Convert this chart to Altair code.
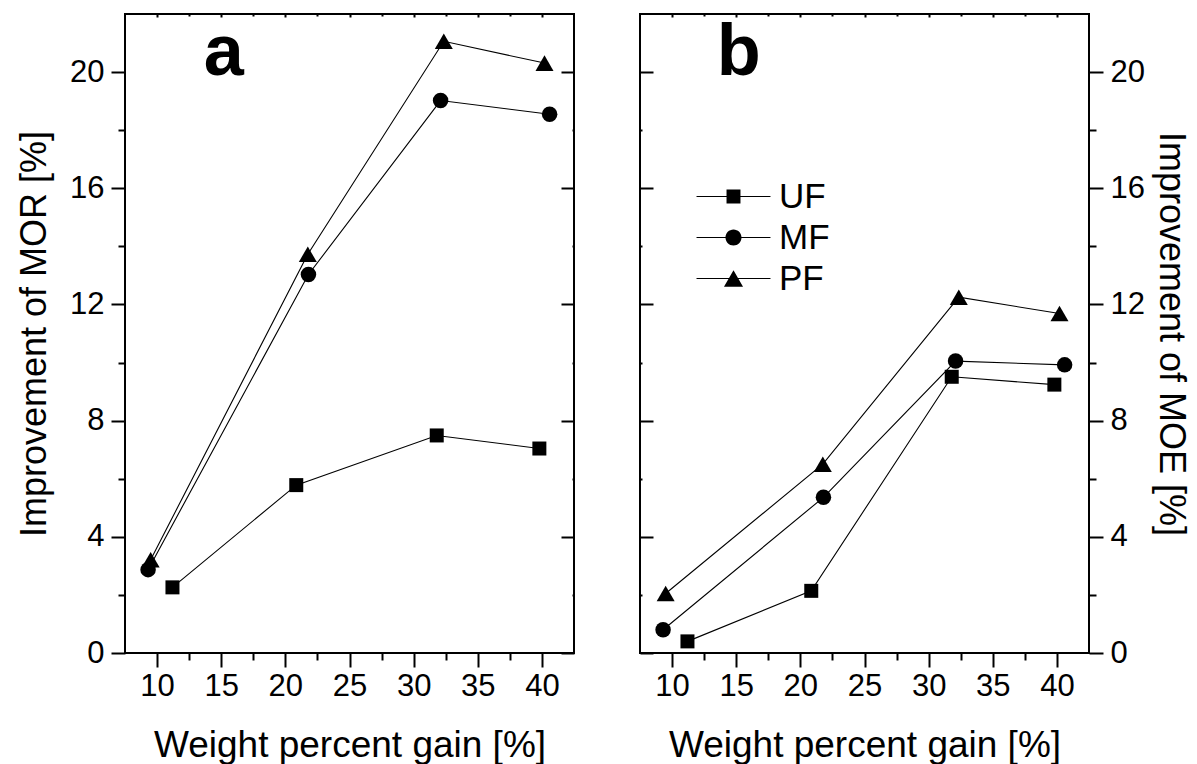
import altair as alt
import pandas as pd

FONT = "Liberation Sans"
SERIES = ["UF", "MF", "PF"]

# Weight percent gain [%] per series
wpg_uf = [11.2, 20.85, 31.8, 39.8]
wpg_mf = [9.3, 21.8, 32.1, 40.6]
wpg_pf = [9.5, 21.75, 32.35, 40.2]

# Panel a: Improvement of MOR [%]
mor_uf = [2.26, 5.78, 7.49, 7.04]
mor_mf = [2.87, 13.03, 19.02, 18.55]
mor_pf = [3.21, 13.73, 21.06, 20.31]

# Panel b: Improvement of MOE [%]
moe_uf = [0.40, 2.14, 9.51, 9.24]
moe_mf = [0.80, 5.36, 10.05, 9.92]
moe_pf = [2.05, 6.50, 12.25, 11.69]

x_major = [10, 15, 20, 25, 30, 35, 40]
x_minor = [12.5, 17.5, 22.5, 27.5, 32.5, 37.5]
y_major = [0, 4, 8, 12, 16, 20]
y_minor = [2, 6, 10, 14, 18]

panel_label_x = [15.2]
panel_label_y = [19.9]


def make_df(uf, mf, pf):
    rows = []
    for s, xs, ys in zip(SERIES, [wpg_uf, wpg_mf, wpg_pf], [uf, mf, pf]):
        for xv, yv in zip(xs, ys):
            rows.append({"x": xv, "y": yv, "series": s})
    return pd.DataFrame(rows)


df_a = make_df(mor_uf, mor_mf, mor_pf)
df_b = make_df(moe_uf, moe_mf, moe_pf)

XS = alt.Scale(domain=[7.5, 42.5], nice=False, zero=False)
YS = alt.Scale(domain=[0, 22], nice=False, zero=False)

# legend symbols: thin bar (line) through marker, as filled custom paths
LINE = "M-4.93,-0.07H4.93V0.07H-4.93Z"
P_SQ = LINE + "M-0.93,-0.93H0.93V0.93H-0.93Z"
P_CI = LINE + "M-1.07,0A1.07,1.07,0,1,1,1.07,0A1.07,1.07,0,1,1,-1.07,0Z"
P_TR = LINE + "M0,-1.1L1.27,1.1L-1.27,1.1Z"

AX = dict(grid=False, domain=False, labelFont=FONT, titleFont=FONT, labelColor="black",
          titleColor="black", tickColor="black", tickWidth=2, titleFontWeight="normal",
          labelFontWeight="normal")


def panel(df, ytitle, side, letter, legend):
    other = "right" if side == "left" else "left"

    x_main = alt.Axis(orient="bottom", values=x_major, tickSize=14, labelPadding=4,
                      labelFontSize=31, title="Weight percent gain [%]",
                      titleFontSize=37, titlePadding=26, **AX)
    y_main = alt.Axis(orient=side, values=y_major, tickSize=14, labelPadding=7,
                      labelFontSize=31, title=ytitle, titleFontSize=36,
                      titlePadding=16 if side == "left" else 7, **AX)

    lines = alt.Chart(df).mark_line(color="black", strokeWidth=1.1).encode(
        x=alt.X("x:Q", scale=XS, axis=x_main),
        y=alt.Y("y:Q", scale=YS, axis=y_main),
        detail="series:N",
    )

    def ax_layer(xax, yax):
        return alt.Chart(df).mark_point(opacity=0).encode(
            x=alt.X("x:Q", scale=XS, axis=xax),
            y=alt.Y("y:Q", scale=YS, axis=yax),
        )

    minor_out = ax_layer(
        alt.Axis(orient="bottom", values=x_minor, tickSize=7, labels=False, title=None, **AX),
        alt.Axis(orient=side, values=y_minor, tickSize=7, labels=False, title=None, **AX),
    )
    major_in = ax_layer(
        alt.Axis(orient="top", values=x_major, tickSize=3, offset=-3, labels=False, title=None, **AX),
        alt.Axis(orient=other, values=y_major, tickSize=13, offset=-13, labels=False, title=None, **AX),
    )
    minor_in = ax_layer(
        alt.Axis(orient="top", values=x_minor, tickSize=2, offset=-2, labels=False, title=None, **AX),
        alt.Axis(orient=other, values=y_minor, tickSize=2, offset=-2, labels=False, title=None, **AX),
    )

    pts = []
    for s, shp, sz in zip(SERIES, ["square", "circle", "triangle-up"], [196, 240, 324]):
        pts.append(
            alt.Chart(df).transform_filter(alt.datum.series == s)
            .mark_point(shape=shp, size=sz, filled=True, color="black", opacity=1, strokeWidth=0)
            .encode(x=alt.X("x:Q", scale=XS, axis=None), y=alt.Y("y:Q", scale=YS, axis=None))
        )

    lab_df = pd.DataFrame({"x": panel_label_x, "y": panel_label_y, "t": [letter]})
    lab = alt.Chart(lab_df).mark_text(font=FONT, fontSize=72, fontWeight="bold", align="center",
                                      baseline="alphabetic", color="black").encode(
        x=alt.X("x:Q", scale=XS, axis=None),
        y=alt.Y("y:Q", scale=YS, axis=None),
        text="t:N",
    )

    layers = [lines, minor_out, major_in, minor_in] + pts + [lab]
    if legend:
        leg = alt.Chart(df).mark_point(filled=True, opacity=0, color="black").encode(
            x=alt.X("x:Q", scale=XS, axis=None),
            y=alt.Y("y:Q", scale=YS, axis=None),
            shape=alt.Shape("series:N", scale=alt.Scale(domain=SERIES, range=[P_SQ, P_CI, P_TR]),
                            legend=alt.Legend(title=None, orient="none", legendX=76, legendY=165,
                                              symbolSize=225, symbolFillColor="black",
                                              symbolStrokeColor="black", symbolStrokeWidth=0,
                                              symbolOpacity=1, labelFont=FONT, labelFontSize=35,
                                              labelColor="black", labelOffset=28, rowPadding=5,
                                              padding=0)),
        )
        layers.append(leg)

    return alt.layer(*layers).resolve_axis(x="independent", y="independent").properties(
        width=449, height=639)


pa = panel(df_a, "Improvement of MOR [%]", "left", "a", False)
pb = panel(df_b, "Improvement of MOE [%]", "right", "b", True)

chart = alt.hconcat(pa, pb, spacing=62).resolve_scale(shape="independent").properties(
    padding={"left": 15, "top": 12, "right": 0, "bottom": 0}, background="white"
).configure_view(stroke="black", strokeWidth=2)

chart.save("out.html", embed_options={"renderer": "svg", "actions": False})
